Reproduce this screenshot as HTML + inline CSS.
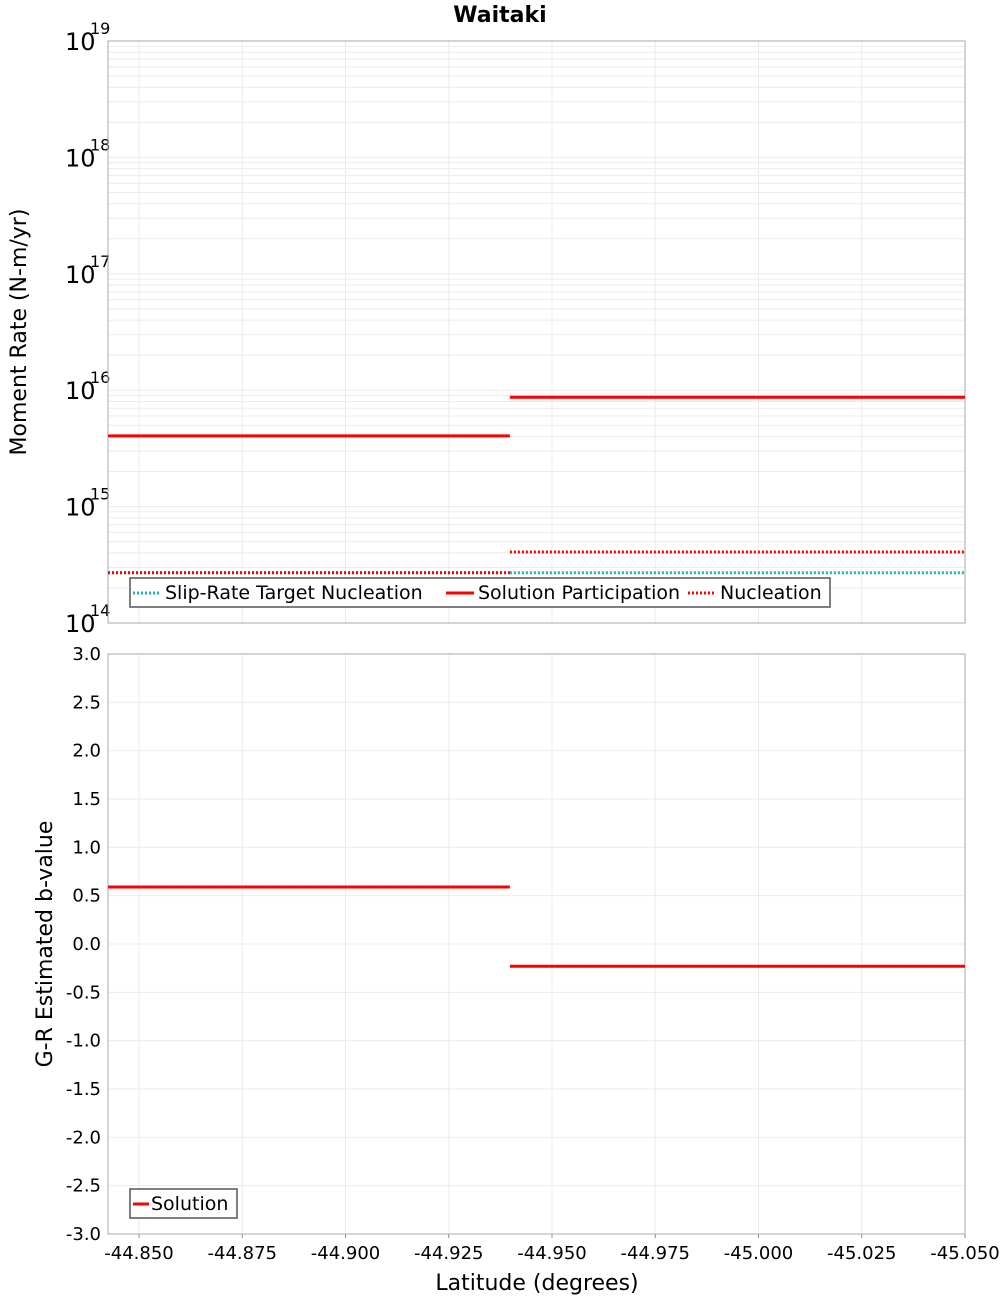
<!DOCTYPE html>
<html><head><meta charset="utf-8"><style>
body{margin:0;background:#fff;font-family:"Liberation Sans","DejaVu Sans",sans-serif}
svg text{font-family:"DejaVu Sans","Liberation Sans",sans-serif}
</style></head><body>
<svg id="chart" width="1000" height="1300" xmlns="http://www.w3.org/2000/svg">
<text x="500" y="22" text-anchor="middle" font-size="22" font-weight="bold">Waitaki</text>
<g id="top"></g>
<g id="bot"></g>
<text x="26" y="332" transform="rotate(-90 26 332)" text-anchor="middle" font-size="22">Moment Rate (N-m/yr)</text>
<text x="52" y="944" transform="rotate(-90 52 944)" text-anchor="middle" font-size="22">G-R Estimated b-value</text>
<text x="537" y="1290" text-anchor="middle" font-size="22">Latitude (degrees)</text>
</svg>
<script>
const segStarts=[-44.8425,-44.9398];
const segEnds=[-44.9398,-45.0500];
const slipTarget=[2.7e14,2.7e14];
const solPart=[4.05e15,8.7e15];
const nucleation=[2.7e14,4.07e14];
const bValue=[0.59,-0.23];
const xTicks=[-44.85,-44.875,-44.9,-44.925,-44.95,-44.975,-45.0,-45.025,-45.05];
const yExp=[14,15,16,17,18,19];
const bTicks=[3,2.5,2,1.5,1,0.5,0,-0.5,-1,-1.5,-2,-2.5,-3];
const L=108,R=965,T1=41,B1=623,T2=654,B2=1234;
const NS="http://www.w3.org/2000/svg";
function X(lat){return 139+(-44.85-lat)/0.2*(965-139);}
function Ylog(v){return B1-(Math.log10(v)-14)/5*(B1-T1);}
function Yb(v){return T2+(3-v)/6*(B2-T2);}
function mk(p,tag,a){const e=document.createElementNS(NS,tag);for(const k in a)e.setAttribute(k,a[k]);p.appendChild(e);return e;}
const gTop=document.getElementById('top'),gBot=document.getElementById('bot');
mk(gTop,'rect',{x:L,y:T1,width:R-L,height:B1-T1,fill:'#fff',stroke:'none'});
mk(gBot,'rect',{x:L,y:T2,width:R-L,height:B2-T2,fill:'#fff',stroke:'none'});
for(let e=14;e<19;e++)for(let m=1;m<10;m++){const y=Ylog(m*Math.pow(10,e));
 const g=mk(gTop,'line',{x1:L,x2:R,y1:y,y2:y,stroke:'#ebebeb','stroke-width':1});
 
 }
xTicks.forEach(t=>{const x=X(t);
 [[gTop,T1,B1],[gBot,T2,B2]].forEach(([g,a,b])=>{const l=mk(g,'line',{x1:x,x2:x,y1:a,y2:b,stroke:'#ebebeb'});
 
 });
 const tx=mk(gBot,'text',{x:x,y:1259,'text-anchor':'middle','font-size':18});tx.textContent=t.toFixed(3);
 
 
 mk(gBot,'line',{x1:x,x2:x,y1:B2,y2:B2+4,stroke:'#888'});});
bTicks.forEach(t=>{const y=Yb(t);
 const l=mk(gBot,'line',{x1:L,x2:R,y1:y,y2:y,stroke:'#ebebeb'});
 
 
 const tx=mk(gBot,'text',{x:101,y:y+6,'text-anchor':'end','font-size':18});tx.textContent=t.toFixed(1);
 
 });
yExp.forEach(e=>{const y=Ylog(Math.pow(10,e));
 const tx=mk(gTop,'text',{x:65,y:y+9,'font-size':24});tx.textContent='10';
 
 
 const s=mk(gTop,'text',{x:90,y:y-7,'font-size':16});s.textContent=String(e);
 
 });
mk(gTop,'rect',{x:L,y:T1,width:R-L,height:B1-T1,fill:'none',stroke:'#aaa'});
mk(gBot,'rect',{x:L,y:T2,width:R-L,height:B2-T2,fill:'none',stroke:'#aaa'});
function series(g,vals,yf,color,dash,name){vals.forEach((v,i)=>{
 const a={x1:X(segStarts[i]),x2:X(segEnds[i]),y1:yf(v),y2:yf(v),stroke:color,'stroke-width':3};
 if(dash)a['stroke-dasharray']='2,2';
 const l=mk(g,'line',a);
 
 });}
series(gTop,slipTarget,Ylog,'#1fb5b5',true,'slip-rate-target-segment');
series(gTop,solPart,Ylog,'#ff0000',false,'solution-participation-segment');
series(gTop,nucleation,Ylog,'#ff0000',true,'nucleation-segment');
series(gBot,bValue,Yb,'#ff0000',false,'b-value-segment');
const lg=mk(gTop,'g',{});


mk(lg,'rect',{x:130,y:578,width:700,height:29,fill:'#fff',stroke:'#555','stroke-width':1.5});
[[133,'#1fb5b5',true,'Slip-Rate Target Nucleation'],[446,'#ff0000',false,'Solution Participation'],[688,'#ff0000',true,'Nucleation']].forEach(([x,c,d,t])=>{
 const a={x1:x,x2:x+28,y1:593,y2:593,stroke:c,'stroke-width':3};if(d)a['stroke-dasharray']='2,2';mk(lg,'line',a);
 const tx=mk(lg,'text',{x:x+32,y:599,'font-size':19});tx.textContent=t;
 
 });
const lb=mk(gBot,'g',{});


mk(lb,'rect',{x:130,y:1189,width:107,height:29,fill:'#fff',stroke:'#555','stroke-width':1.5});
mk(lb,'line',{x1:133,x2:149,y1:1204,y2:1204,stroke:'#ff0000','stroke-width':3});
const st=mk(lb,'text',{x:151,y:1210,'font-size':19});st.textContent='Solution';


</script>
</body></html>
